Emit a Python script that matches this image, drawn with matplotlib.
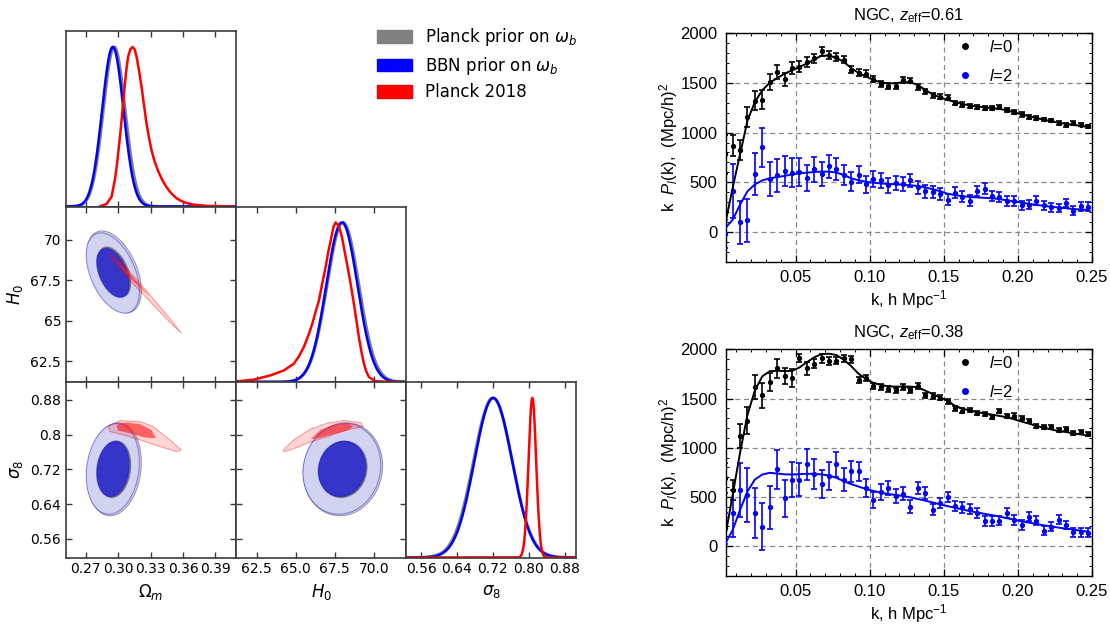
import numpy as np
import matplotlib
matplotlib.use('Agg')
import matplotlib.pyplot as plt
from matplotlib.patches import Ellipse, Polygon, Patch
from matplotlib.lines import Line2D
from matplotlib.font_manager import FontProperties
from matplotlib.ticker import FixedLocator, MultipleLocator, FormatStrFormatter

plt.rcParams['mathtext.rm'] = 'Liberation Sans'
plt.rcParams['mathtext.it'] = 'Liberation Sans:italic'
plt.rcParams['mathtext.bf'] = 'Liberation Sans:bold'

# ---------------- corner plot data ----------------
par_labels = [r'$\Omega_m$', r'$H_0$', r'$\sigma_8$']
par_ticks = [[0.27, 0.30, 0.33, 0.36, 0.39],
             [62.5, 65.0, 67.5, 70.0],
             [0.56, 0.64, 0.72, 0.80, 0.88]]
xtick_labels = [['0.27', '0.30', '0.33', '0.36', '0.39'],
                ['62.5', '65.0', '67.5', '70.0'],
                ['0.56', '0.64', '0.72', '0.80', '0.88']]
ytick_labels = [None, ['62.5', '65', '67.5', '70'],
                ['0.56', '0.64', '0.72', '0.8', '0.88']]
par_xlim = [(0.2517, 0.409), (61.2, 72.07), (0.527, 0.906)]
par_ylim = [(0.2517, 0.409), (61.2, 72.07), (0.517, 0.921)]

# BBN prior (blue) and Planck prior (gray): mean, sigma, correlations
bbn_mean = [0.2950, 67.95, 0.721]
bbn_sig = [0.0099, 1.00, 0.042]
pl_mean = [0.2963, 68.02, 0.720]
pl_sig = [0.0101, 1.02, 0.043]
corr = {(0, 1): -0.45, (0, 2): 0.15, (1, 2): 0.08}

# Planck 2018 (red) 1D curves
red_om_x = [0.2831, 0.2893, 0.2939, 0.2969, 0.2985, 0.3000, 0.3016, 0.3031, 0.3047,
            0.3062, 0.3077, 0.3092, 0.3112, 0.3133, 0.3152, 0.3170, 0.3193, 0.3216,
            0.3239, 0.3262, 0.3285, 0.3308, 0.3331, 0.3354, 0.3385, 0.3416, 0.3447,
            0.3477, 0.3508, 0.3539, 0.3577, 0.3616, 0.3692, 0.3816, 0.4062]
red_om_y = [0.0, 0.017, 0.062, 0.167, 0.245, 0.333, 0.435, 0.54, 0.655,
            0.77, 0.865, 0.94, 0.985, 1.0, 0.985, 0.94, 0.85, 0.75,
            0.635, 0.52, 0.43, 0.354, 0.295, 0.25, 0.198, 0.156, 0.122,
            0.094, 0.071, 0.052, 0.037, 0.025, 0.012, 0.004, 0.0]
red_h0_x = [61.26, 62.33, 63.40, 64.25, 64.88, 65.20, 65.52, 65.80, 66.06, 66.27,
            66.48, 66.70, 66.91, 67.07, 67.23, 67.42, 67.55, 67.70, 67.82, 67.95,
            68.08, 68.24, 68.40, 68.56, 68.72, 68.88, 69.04, 69.20, 69.36, 69.52,
            69.68, 70.11, 72.07]
red_h0_y = [0.004, 0.015, 0.042, 0.073, 0.115, 0.160, 0.22, 0.29, 0.365, 0.44,
            0.51, 0.62, 0.72, 0.81, 0.885, 0.975, 1.0, 0.985, 0.958, 0.91,
            0.844, 0.76, 0.677, 0.585, 0.49, 0.385, 0.28, 0.19, 0.115, 0.065,
            0.031, 0.004, 0.0]
red_s8_mean = 0.808
red_s8_sig = 0.0085

# Planck 2018 (red) 2D contours: outer (95%) and inner (68%) outlines
red_om_h0_out = [(0.2923, 69.13), (0.3042, 68.51), (0.3174, 67.52), (0.3334, 66.27),
                 (0.3494, 65.00), (0.3585, 64.21), (0.3478, 64.90), (0.3306, 66.10),
                 (0.3136, 67.30), (0.3002, 68.27), (0.2918, 69.02)]
red_om_h0_in = [(0.2943, 68.98), (0.3100, 67.97), (0.3290, 66.50), (0.3078, 67.83)]
red_om_s8_out = [(0.2908, 0.8185), (0.3016, 0.8323), (0.3200, 0.8300), (0.3323, 0.8185),
                 (0.3477, 0.7878), (0.3585, 0.7647), (0.3539, 0.7608), (0.3385, 0.7724),
                 (0.3200, 0.7878), (0.3046, 0.7993), (0.2923, 0.8070)]
red_om_s8_in = [(0.2985, 0.8224), (0.3077, 0.8278), (0.3200, 0.8240), (0.3308, 0.8108),
                (0.3348, 0.7915), (0.3231, 0.7938), (0.3108, 0.8032), (0.2998, 0.8092)]
red_h0_s8_out = [(64.21, 0.7647), (64.88, 0.7878), (65.95, 0.8125), (67.02, 0.8263),
                 (68.08, 0.8323), (69.15, 0.8278), (69.32, 0.8185), (68.30, 0.8109),
                 (67.02, 0.7954), (65.74, 0.7802), (64.67, 0.7647), (64.25, 0.7608)]
red_h0_s8_in = [(65.95, 0.7893), (66.59, 0.8109), (67.44, 0.8224), (68.30, 0.8263),
                (68.68, 0.8185), (68.30, 0.8093), (67.23, 0.7993), (66.38, 0.7916)]
red_2d = {(0, 1): (red_om_h0_out, red_om_h0_in),
          (0, 2): (red_om_s8_out, red_om_s8_in),
          (1, 2): (red_h0_s8_out, red_h0_s8_in)}

# ---------------- power spectrum data ----------------
k = [0.0025, 0.0075, 0.0125, 0.0175, 0.0225, 0.0275, 0.0325, 0.0375, 0.0425, 0.0475,
     0.0525, 0.0575, 0.0625, 0.0675, 0.0725, 0.0775, 0.0825, 0.0875, 0.0925, 0.0975,
     0.1025, 0.1075, 0.1125, 0.1175, 0.1225, 0.1275, 0.1325, 0.1375, 0.1425, 0.1475,
     0.1525, 0.1575, 0.1625, 0.1675, 0.1725, 0.1775, 0.1825, 0.1875, 0.1925, 0.1975,
     0.2025, 0.2075, 0.2125, 0.2175, 0.2225, 0.2275, 0.2325, 0.2375, 0.2425, 0.2475]

# z_eff = 0.61
p0_a = [780, 870, 825, 1155, 1320, 1332, 1512, 1614, 1536, 1648,
        1665, 1715, 1749, 1820, 1782, 1760, 1735, 1634, 1605, 1595,
        1539, 1488, 1471, 1471, 1529, 1522, 1461, 1417, 1376, 1359,
        1349, 1297, 1281, 1268, 1258, 1248, 1248, 1258, 1224, 1207,
        1183, 1156, 1149, 1132, 1122, 1098, 1078, 1098, 1081, 1063]
e0_a = [195, 110, 105, 100, 95, 95, 80, 70, 65, 60,
        55, 50, 45, 45, 40, 40, 38, 35, 33, 32,
        30, 30, 28, 28, 28, 27, 27, 26, 25, 25,
        25, 24, 24, 23, 23, 22, 22, 22, 21, 21,
        21, 20, 20, 20, 20, 19, 19, 19, 19, 18]
p2_a = [-20, 415, 95, 115, 580, 850, 529, 569, 615, 597,
        607, 546, 630, 580, 662, 635, 570, 505, 578, 478,
        529, 519, 471, 495, 485, 519, 451, 410, 403, 383,
        325, 395, 352, 316, 410, 437, 359, 349, 315, 308,
        268, 275, 315, 268, 247, 241, 292, 214, 258, 255]
e2_a = [140, 270, 220, 215, 210, 195, 170, 165, 150, 145,
        140, 130, 125, 120, 115, 110, 100, 95, 90, 85,
        80, 78, 75, 72, 70, 68, 66, 64, 62, 60,
        58, 56, 55, 54, 53, 52, 51, 50, 50, 49,
        48, 47, 46, 46, 45, 45, 44, 44, 43, 43]
m0_a = [80, 444, 783, 1122, 1309, 1427, 1502, 1549, 1593, 1627,
        1661, 1695, 1736, 1775, 1775, 1753, 1712, 1650, 1600, 1565,
        1530, 1505, 1495, 1497, 1508, 1508, 1478, 1430, 1385, 1355,
        1330, 1307, 1289, 1274, 1263, 1255, 1248, 1238, 1224, 1204,
        1184, 1164, 1147, 1130, 1114, 1099, 1087, 1078, 1068, 1058]
m2_a = [37, 122, 275, 410, 478, 519, 539, 553, 563, 580,
        590, 597, 603, 607, 607, 597, 573, 540, 520, 505,
        495, 488, 483, 480, 476, 470, 462, 448, 430, 410,
        385, 370, 360, 352, 347, 343, 339, 330, 318, 306,
        295, 283, 272, 262, 254, 246, 238, 231, 226, 220]

# z_eff = 0.38
p0_b = [694, 574, 1121, 1275, 1617, 1532, 1668, 1805, 1730, 1709,
        1910, 1805, 1855, 1910, 1880, 1885, 1910, 1900, 1686, 1710,
        1627, 1617, 1600, 1583, 1617, 1583, 1627, 1532, 1525, 1508,
        1470, 1402, 1378, 1385, 1354, 1344, 1310, 1371, 1320, 1327,
        1299, 1275, 1217, 1207, 1207, 1183, 1190, 1149, 1162, 1139]
e0_b = [150, 100, 125, 135, 120, 125, 95, 95, 85, 90,
        42, 65, 50, 45, 40, 38, 36, 35, 33, 32,
        30, 30, 29, 28, 28, 27, 27, 26, 26, 25,
        25, 24, 24, 23, 23, 22, 22, 22, 21, 21,
        21, 20, 20, 20, 19, 19, 19, 19, 18, 18]
p2_b = [181, 335, 574, 523, 335, 198, 393, 780, 489, 677,
        677, 831, 735, 630, 715, 830, 677, 760, 760, 590,
        465, 550, 590, 513, 533, 403, 592, 540, 369, 438,
        499, 410, 393, 373, 335, 256, 256, 260, 335, 267,
        215, 301, 256, 157, 198, 267, 215, 140, 140, 137]
e2_b = [154, 240, 274, 274, 256, 240, 222, 200, 188, 178,
        171, 154, 150, 145, 140, 130, 115, 105, 100, 88,
        82, 78, 74, 70, 66, 62, 60, 58, 56, 55,
        54, 53, 52, 51, 50, 50, 49, 48, 48, 47,
        47, 46, 46, 45, 45, 45, 44, 44, 44, 44]
m0_b = [100, 520, 950, 1335, 1583, 1725, 1778, 1781, 1780, 1780,
        1815, 1868, 1918, 1952, 1955, 1942, 1895, 1829, 1751, 1699,
        1658, 1638, 1624, 1621, 1621, 1621, 1614, 1580, 1545, 1511,
        1477, 1426, 1398, 1378, 1361, 1347, 1337, 1323, 1310, 1289,
        1265, 1245, 1221, 1204, 1186, 1169, 1159, 1145, 1135, 1125]
m2_b = [27, 164, 369, 557, 677, 728, 745, 738, 730, 728,
        732, 735, 735, 728, 718, 694, 660, 630, 605, 581,
        561, 544, 530, 520, 509, 496, 479, 462, 444, 424,
        407, 390, 373, 356, 342, 328, 315, 301, 284, 270,
        253, 239, 226, 212, 202, 188, 178, 168, 157, 147]

# ---------------- figure ----------------
W, H = 1110, 628
fig = plt.figure(figsize=(W / 100, H / 100), dpi=100)

col_x = [66, 236.3, 406.3]
row_y = [31, 206.5, 382]
pw, ph = 170, 175.5
spine_c = '#3a3a3a'

blue_dark, blue_light = '#3535c9', '#d2d2f1'
gray_dark, gray_light = '#6a6a6a', '#d6d6d6'


def ellipse_pars(mean, sig, i, j, scale):
    c = corr[(i, j)]
    cov = np.array([[sig[i] ** 2, c * sig[i] * sig[j]],
                    [c * sig[i] * sig[j], sig[j] ** 2]])
    vals, vecs = np.linalg.eigh(cov)
    ang = np.degrees(np.arctan2(vecs[1, 1], vecs[0, 1]))
    return (mean[i], mean[j]), 2 * scale * np.sqrt(vals[1]), 2 * scale * np.sqrt(vals[0]), ang


def draw_gauss2d(ax, mean, sig, i, j, dark, light, edge):
    for scale, fc, z in [(2.486, light, 1), (1.515, dark, 2)]:
        xy, w, h, a = ellipse_pars(mean, sig, i, j, scale)
        ax.add_patch(Ellipse(xy, w, h, angle=a, facecolor=fc, edgecolor=edge,
                             lw=0.8, zorder=z))


axes = {}
for r in range(3):
    for c in range(r + 1):
        ax = fig.add_axes([col_x[c] / W, 1 - (row_y[r] + ph) / H, pw / W, ph / H])
        axes[(r, c)] = ax
        ax.set_xlim(par_xlim[c])
        ax.xaxis.set_major_locator(FixedLocator(par_ticks[c]))
        ax.set_xticklabels(xtick_labels[c])
        if r == c:
            ax.set_ylim(0, 1.1)
            ax.set_yticks([])
        else:
            ax.set_ylim(par_ylim[r])
            ax.yaxis.set_major_locator(FixedLocator(par_ticks[r]))
            ax.set_yticklabels(ytick_labels[r])
        ax.tick_params(direction='in', top=True, right=True, length=4, width=1,
                       color=spine_c, labelsize=10,
                       labelbottom=(r == 2), labelleft=(c == 0 and r > 0))
        for s in ax.spines.values():
            s.set_color(spine_c)
            s.set_linewidth(1.2)
        if r == 2:
            ax.set_xlabel(par_labels[c], fontsize=12)
        if c == 0 and r > 0:
            ax.set_ylabel(par_labels[r], fontsize=12)

# diagonal 1D posteriors
for d in range(3):
    ax = axes[(d, d)]
    xs = np.linspace(par_xlim[d][0], par_xlim[d][1], 500)
    ax.plot(xs, np.exp(-0.5 * ((xs - pl_mean[d]) / pl_sig[d]) ** 2), color='gray', lw=2.2)
    ax.plot(xs, np.exp(-0.5 * ((xs - bbn_mean[d]) / bbn_sig[d]) ** 2), color='blue', lw=1.8)
axes[(0, 0)].plot(red_om_x, red_om_y, color='red', lw=1.8)
axes[(1, 1)].plot(red_h0_x, red_h0_y, color='red', lw=1.8)
xs = np.linspace(par_xlim[2][0], par_xlim[2][1], 800)
axes[(2, 2)].plot(xs, np.exp(-0.5 * ((xs - red_s8_mean) / red_s8_sig) ** 2), color='red', lw=1.8)

# off-diagonal 2D contours
for (i, j), (outer, inner) in red_2d.items():
    ax = axes[(j, i)]
    draw_gauss2d(ax, pl_mean, pl_sig, i, j, gray_dark, gray_light, (0.4, 0.4, 0.4, 0.6))
    draw_gauss2d(ax, bbn_mean, bbn_sig, i, j, blue_dark, blue_light, (0, 0, 1, 0.4))
    ax.add_patch(Polygon(outer, closed=True, facecolor=(1, 0, 0, 0.16),
                         edgecolor=(1, 0, 0, 0.35), lw=0.8, zorder=3))
    ax.add_patch(Polygon(inner, closed=True, facecolor=(1, 0.1, 0.1, 0.62),
                         edgecolor='none', zorder=4))

fig.legend(handles=[Patch(color='gray'), Patch(color='blue'), Patch(color='red')],
           labels=[r'Planck prior on $\omega_b$', r'BBN prior on $\omega_b$', 'Planck 2018'],
           loc='upper left', bbox_to_anchor=(377 / W, 1 - 26 / H), frameon=False,
           fontsize=12, handlelength=2.1, handleheight=0.8, handletextpad=0.8,
           labelspacing=0.4, borderpad=0, borderaxespad=0)

# ---------------- P(k) panels ----------------
lib = 'Liberation Sans'
mfp = FontProperties(family=lib, size=12, math_fontfamily='custom')


def pk_panel(rect, p0, e0, p2, e2, m0, m2, zlabel):
    ax = fig.add_axes(rect)
    ax.errorbar(k, p0, yerr=e0, fmt='o', color='black', ms=2.8, elinewidth=1.2,
                capsize=2.2, capthick=1.2, zorder=3)
    ax.errorbar(k, p2, yerr=e2, fmt='o', color='blue', ms=2.8, elinewidth=1.2,
                capsize=2.2, capthick=1.2, zorder=3)
    ax.plot(k, m0, color='black', lw=1.4, zorder=4)
    ax.plot(k, m2, color='blue', lw=1.4, zorder=4)
    ax.set_xlim(0.0028, 0.25)
    ax.set_ylim(-300, 2000)
    ax.xaxis.set_major_locator(FixedLocator([0.05, 0.10, 0.15, 0.20, 0.25]))
    ax.xaxis.set_major_formatter(FormatStrFormatter('%.2f'))
    ax.xaxis.set_minor_locator(MultipleLocator(0.01))
    ax.yaxis.set_major_locator(FixedLocator([0, 500, 1000, 1500, 2000]))
    ax.yaxis.set_minor_locator(MultipleLocator(100))
    ax.tick_params(which='both', direction='in', top=True, right=True,
                   labelsize=12, labelfontfamily=lib)
    ax.tick_params(which='major', length=5, width=0.9, pad=6)
    ax.tick_params(which='minor', length=2.5, width=0.7)
    ax.grid(True, which='major', color='#888888', ls=(0, (4, 3)), lw=0.9)
    ax.set_axisbelow(True)
    for s in ax.spines.values():
        s.set_linewidth(1.0)
    ax.set_xlabel(r'k, h Mpc$^{-1}$', fontproperties=mfp, labelpad=2)
    ax.set_ylabel(r'k  $P_l$(k),  (Mpc/h)$^2$', fontproperties=mfp, labelpad=0)
    ax.set_title(r'NGC, $z_{\rm eff}$=' + zlabel, fontproperties=mfp, pad=9)
    hs = [Line2D([], [], marker='o', ls='none', color='black', ms=4),
          Line2D([], [], marker='o', ls='none', color='blue', ms=4)]
    ax.legend(hs, [r'$l$=0', r'$l$=2'], loc='upper left', bbox_to_anchor=(0.6, 1.025),
              frameon=False, prop=mfp, handlelength=1.0, handletextpad=0.9,
              labelspacing=0.75, borderaxespad=0.3)
    return ax


pk_panel([725.7 / W, 1 - 261.7 / H, 366.3 / W, 228.4 / H],
         p0_a, e0_a, p2_a, e2_a, m0_a, m2_a, '0.61')
pk_panel([725.7 / W, 1 - 575.7 / H, 366.3 / W, 226.4 / H],
         p0_b, e0_b, p2_b, e2_b, m0_b, m2_b, '0.38')

fig.savefig('out.png', dpi=100)
